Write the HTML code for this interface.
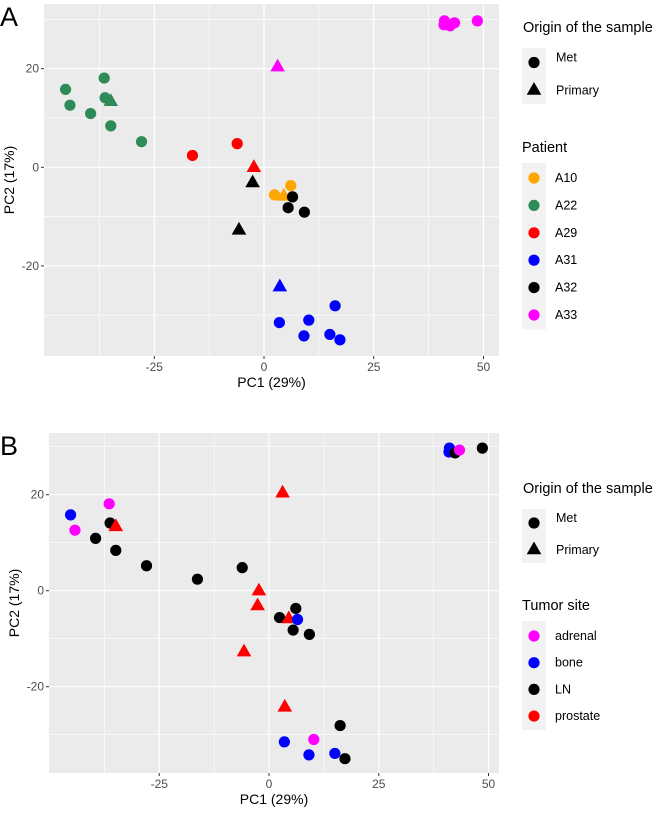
<!DOCTYPE html>
<html><head><meta charset="utf-8"><style>
body{margin:0;background:#fff}
svg{display:block;font-family:"Liberation Sans",sans-serif}
</style></head><body>
<svg id="s" width="662" height="817"></svg>
<script>
const pc1=[-45.2,-44.2,-39.5,-36.4,-36.2,-34.9,-27.9,-34.9,-16.3,-6.1,-2.3,-2.6,-5.7,2.4,6.1,4.5,6.5,5.5,9.2,3.1,41.1,41,42.4,43.4,48.6,3.6,3.5,10.2,9.1,15,16.2,17.3];
const pc2=[15.8,12.6,10.9,18.1,14.1,8.4,5.2,13.5,2.4,4.8,0.1,-3.0,-12.6,-5.6,-3.7,-5.7,-6.0,-8.2,-9.1,20.5,29.7,28.9,28.7,29.3,29.7,-24.1,-31.5,-31.0,-34.2,-33.9,-28.1,-35.0];
const origin=['Met','Met','Met','Met','Met','Met','Met','Primary','Met','Met','Primary','Primary','Primary','Met','Met','Primary','Met','Met','Met','Primary','Met','Met','Met','Met','Met','Primary','Met','Met','Met','Met','Met','Met'];
const patient=['A22','A22','A22','A22','A22','A22','A22','A22','A29','A29','A29','A32','A32','A10','A10','A10','A32','A32','A32','A33','A33','A33','A33','A33','A33','A31','A31','A31','A31','A31','A31','A31'];
const site=['bone','adrenal','LN','adrenal','LN','LN','LN','prostate','LN','LN','prostate','prostate','prostate','LN','LN','prostate','bone','LN','LN','prostate','bone','bone','LN','adrenal','LN','prostate','bone','adrenal','bone','bone','LN','LN'];
const patients=['A10','A22','A29','A31','A32','A33'];
const patientColors=['#FFA500','#2E8B57','#FF0000','#0000FF','#000000','#FF00FF'];
const sites=['adrenal','bone','LN','prostate'];
const siteColors=['#FF00FF','#0000FF','#000000','#FF0000'];
const xTicks=[-25,0,25,50];
const yTicks=[-20,0,20];

const NS='http://www.w3.org/2000/svg';
const svg=document.getElementById('s');
function el(t,a,p){const e=document.createElementNS(NS,t);for(const k in a)e.setAttribute(k,a[k]);(p||svg).appendChild(e);return e;}
function txt(s,a,p){const e=el('text',a,p);e.textContent=s;return e;}

function panel(cfg){
  const g=el('g',{});
  
  
  const X=v=>cfg.x0+v*cfg.xs, Y=v=>cfg.y0-v*cfg.ys;
  const bg=el('rect',{x:cfg.l,y:cfg.t,width:cfg.r-cfg.l,height:cfg.b-cfg.t,fill:'#EBEBEB'},g);
  
  
  for(let i=0;i<xTicks.length;i++){
    const m=X(xTicks[i]-12.5);
    if(m>cfg.l)el('line',{x1:m,x2:m,y1:cfg.t,y2:cfg.b,stroke:'#fff','stroke-width':0.6},g);
    const px=X(xTicks[i]);
    el('line',{x1:px,x2:px,y1:cfg.t,y2:cfg.b,stroke:'#fff','stroke-width':1.2},g);
    el('line',{x1:px,x2:px,y1:cfg.b,y2:cfg.b+3,stroke:'#333'},g);
    const t=txt(xTicks[i],{x:px,y:cfg.b+15,'font-size':12,fill:'#4d4d4d','text-anchor':'middle'},g);
    
    
  }
  const mx=X(xTicks[xTicks.length-1]+12.5); if(mx<cfg.r)el('line',{x1:mx,x2:mx,y1:cfg.t,y2:cfg.b,stroke:'#fff','stroke-width':0.6},g);
  for(const v of [-30,-10,10,30]){const py=Y(v);if(py>cfg.t&&py<cfg.b)el('line',{x1:cfg.l,x2:cfg.r,y1:py,y2:py,stroke:'#fff','stroke-width':0.6},g);}
  for(let i=0;i<yTicks.length;i++){
    const py=Y(yTicks[i]);
    el('line',{x1:cfg.l,x2:cfg.r,y1:py,y2:py,stroke:'#fff','stroke-width':1.2},g);
    el('line',{x1:cfg.l-3,x2:cfg.l,y1:py,y2:py,stroke:'#333'},g);
    const t=txt(yTicks[i],{x:cfg.l-5,y:py+4,'font-size':12,fill:'#4d4d4d','text-anchor':'end'},g);
    
    
  }
  for(let i=0;i<pc1.length;i++){
    const px=X(pc1[i]),py=Y(pc2[i]);
    const c=cfg.colorOf(i);
    let m;
    if(origin[i]==='Met')m=el('circle',{cx:px,cy:py,r:5.6,fill:c},g);
    else m=el('polygon',{points:`${px},${py-7.5} ${px-7.3},${py+5.2} ${px+7.3},${py+5.2}`,fill:c},g);
    
    
  }
  const xl=txt('PC1 (29%)',{x:(cfg.l+cfg.r)/2,y:cfg.b+31,'font-size':14,'text-anchor':'middle',fill:'#000'},g);
  
  
  const yl=txt('PC2 (17%)',{x:0,y:0,'font-size':14,'text-anchor':'middle',fill:'#000',transform:`translate(${cfg.l-30},${(cfg.t+cfg.b)/2}) rotate(-90)`},g);
  
  
  const pl=txt(cfg.letter,{x:0,y:cfg.t+22,'font-size':27,fill:'#000'},g);
  
  
  const L=el('g',{},g);
  
  
  txt('Origin of the sample',{x:523,y:cfg.lg1+5,'font-size':14.5},L);
  el('rect',{x:522,y:cfg.lg1+21,width:24,height:cfg.lgStep*2+2,fill:'#F2F2F2'},L);
  const m1=cfg.lg1+21+cfg.lgStep/2+1, m2=m1+cfg.lgStep;
  el('circle',{cx:534,cy:m1,r:5.6,fill:'#000'},L);
  el('polygon',{points:`534,${m2-7.5} 526.7,${m2+5.2} 541.3,${m2+5.2}`,fill:'#000'},L);
  let e=txt('Met',{x:556,y:m1-1,'font-size':12.5},L);
  e=txt('Primary',{x:556,y:m2+5,'font-size':12.5},L);
  txt(cfg.leg2Title,{x:522,y:cfg.lg2+5,'font-size':14.5},L);
  const n=cfg.leg2Labels.length;
  el('rect',{x:522,y:cfg.lg2+16,width:24,height:n*cfg.lg2Step+2,fill:'#F2F2F2'},L);
  for(let k=0;k<n;k++){
    const cy=cfg.lg2+31+k*cfg.lg2Step;
    el('circle',{cx:534,cy:cy,r:5.6,fill:cfg.leg2Colors[k]},L);
    e=txt(cfg.leg2Labels[k],{x:555,y:cy+4,'font-size':12.5},L);
    
    
  }
}
panel({name:'panel-a',letter:'A',l:44,r:499,t:4,b:356,x0:264,xs:4.39,y0:167.3,ys:4.93,
  colorOf:i=>patientColors[patients.indexOf(patient[i])],
  lg1:27,lg2:147,lgStep:27,lg2Step:27.4,leg2Title:'Patient',leg2Labels:patients,leg2Colors:patientColors});
panel({name:'panel-b',letter:'B',l:49,r:499,t:433,b:773,x0:269,xs:4.39,y0:590.7,ys:4.8,
  colorOf:i=>siteColors[sites.indexOf(site[i])],
  lg1:488,lg2:605,lgStep:26,lg2Step:26.7,leg2Title:'Tumor site',leg2Labels:sites,leg2Colors:siteColors});
</script>
</body></html>
